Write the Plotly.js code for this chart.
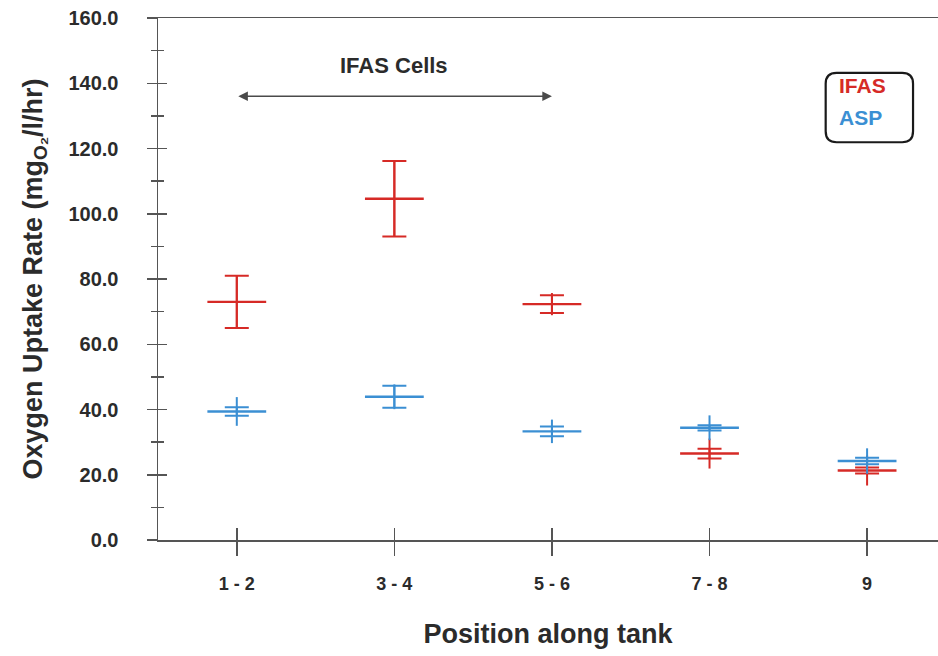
<!DOCTYPE html>
<html>
<head>
<meta charset="utf-8">
<script src="https://cdn.plot.ly/plotly-3.0.1.min.js"></script>
<style>
  html, body { margin: 0; padding: 0; background: #ffffff; }
  #chart { width: 938px; height: 656px; }
</style>
</head>
<body>
<div id="chart"></div>
<script>
// Tank positions
const positions = ['1 - 2', '3 - 4', '5 - 6', '7 - 8', '9'];
const seriesNames = ['IFAS', 'ASP'];

// IFAS reactor: mean uptake rate, cap (SD) and whisker (range) half-widths
const ifasMean = [73.0, 104.6, 72.3, 26.5, 21.3];
const ifasCap = [8.0, 11.6, 2.7, 1.5, 0.9];
const ifasWhisker = [8.0, 11.6, 3.4, 4.6, 4.6];

// Conventional activated sludge plant
const aspMean = [39.4, 43.9, 33.3, 34.4, 24.2];
const aspCap = [1.3, 3.4, 1.5, 0.8, 1.0];
const aspWhisker = [4.4, 3.8, 3.6, 3.8, 3.9];

// Span of the IFAS cells along the tank
const cellsStart = 0, cellsEnd = 2, cellsLevel = 136, cellsLabelLevel = 145.5;

const red = '#d62a26';
const blue = '#3b8fd3';
const axisColor = '#555555';
const textColor = '#2b2b2b';
const family = 'Liberation Sans, Arial, sans-serif';

function whiskerTrace(mean, half, color) {
  return {
    type: 'scatter', mode: 'markers', x: positions, y: mean,
    marker: { size: 1, color: 'rgba(0,0,0,0)' },
    error_y: { type: 'data', array: half, visible: true, color: color, thickness: 2, width: 0 },
    showlegend: false, hoverinfo: 'skip'
  };
}

function meanTrace(mean, half, color, name) {
  return {
    type: 'scatter', mode: 'markers', name: name, x: positions, y: mean,
    marker: { symbol: 'line-ew', size: 42, color: color, line: { color: color, width: 2.4 } },
    error_y: { type: 'data', array: half, visible: true, color: color, thickness: 2, width: 12 },
    showlegend: false
  };
}

const traces = [
  whiskerTrace(ifasMean, ifasWhisker, red),
  meanTrace(ifasMean, ifasCap, red, seriesNames[0]),
  whiskerTrace(aspMean, aspWhisker, blue),
  meanTrace(aspMean, aspCap, blue, seriesNames[1]),
  // carries the inner halves of the crossing tick marks
  { type: 'scatter', mode: 'markers', x: [], y: [], xaxis: 'x2', yaxis: 'y2', showlegend: false, hoverinfo: 'skip' }
];

const xRange = [-0.5, 4.45];
const yRange = [0, 160];
const xTickFont = { family: family, size: 18, color: textColor, weight: 'bold' };
const yTickFont = { family: family, size: 20, color: textColor, weight: 'bold' };
const xTitleFont = { family: family, size: 27, color: textColor, weight: 'bold' };
const yTitleFont = { family: family, size: 27, color: textColor, weight: 'bold' };

// Rounded key frame in paper units
const bx0 = 0.856, bx1 = 0.968, by0 = 0.762, by1 = 0.895, rx = 0.014, ry = 0.021;
const keyPath = `M ${bx0 + rx} ${by0} L ${bx1 - rx} ${by0} Q ${bx1} ${by0} ${bx1} ${by0 + ry} ` +
  `L ${bx1} ${by1 - ry} Q ${bx1} ${by1} ${bx1 - rx} ${by1} L ${bx0 + rx} ${by1} ` +
  `Q ${bx0} ${by1} ${bx0} ${by1 - ry} L ${bx0} ${by0 + ry} Q ${bx0} ${by0} ${bx0 + rx} ${by0} Z`;

const layout = {
  width: 938, height: 656,
  margin: { l: 158, r: 0, t: 18, b: 116 },
  paper_bgcolor: '#ffffff', plot_bgcolor: '#ffffff',
  showlegend: false,
  xaxis: {
    type: 'category', range: xRange,
    showgrid: false, zeroline: false,
    showline: true, linecolor: axisColor, linewidth: 1.5, mirror: true,
    ticks: 'outside', ticklen: 14, tickwidth: 1.5, tickcolor: axisColor,
    ticklabelstandoff: 13,
    tickfont: xTickFont,
    title: { text: 'Position along tank', font: xTitleFont, standoff: 31 }
  },
  yaxis: {
    range: yRange, dtick: 20, tickformat: '.1f',
    showgrid: false, zeroline: false,
    showline: true, linecolor: axisColor, linewidth: 1.5,
    ticks: 'outside', ticklen: 10, tickwidth: 1.5, tickcolor: axisColor,
    minor: { dtick: 10, ticks: 'outside', ticklen: 6, tickwidth: 1.5, tickcolor: axisColor },
    ticklabelstandoff: 24,
    tickfont: yTickFont,
    title: { text: 'Oxygen Uptake Rate (mg<sub>O₂</sub>/l/hr)', font: yTitleFont, standoff: 18 }
  },
  xaxis2: {
    overlaying: 'x', anchor: 'y2', range: xRange,
    tickvals: [0, 1, 2, 3, 4], showticklabels: false,
    showgrid: false, zeroline: false, showline: false,
    ticks: 'inside', ticklen: 12, tickwidth: 1.5, tickcolor: axisColor
  },
  yaxis2: {
    overlaying: 'y', anchor: 'x2', range: yRange, dtick: 20, showticklabels: false,
    showgrid: false, zeroline: false, showline: false,
    ticks: 'inside', ticklen: 9, tickwidth: 1.5, tickcolor: axisColor,
    minor: { dtick: 10, ticks: 'inside', ticklen: 6, tickwidth: 1.5, tickcolor: axisColor }
  },
  shapes: [
    { type: 'path', xref: 'paper', yref: 'paper', path: keyPath,
      line: { color: '#1a1a1a', width: 2.2 }, fillcolor: 'rgba(0,0,0,0)' }
  ],
  annotations: [
    { xref: 'x', yref: 'y', x: cellsEnd, y: cellsLevel, axref: 'x', ayref: 'y', ax: cellsStart, ay: cellsLevel,
      text: '', showarrow: true, arrowside: 'end+start', arrowhead: 2, arrowsize: 1.2, arrowwidth: 1.6,
      arrowcolor: '#4a4a4a', standoff: 0, startstandoff: 0 },
    { xref: 'x', yref: 'y', x: (cellsStart + cellsEnd) / 2, y: cellsLabelLevel, text: 'IFAS Cells',
      showarrow: false, font: { family: family, size: 22, color: textColor, weight: 'bold' } },
    { xref: 'paper', yref: 'paper', x: 0.871, y: 0.870, xanchor: 'left', yanchor: 'middle', text: seriesNames[0], showarrow: false,
      font: { family: family, size: 21, color: red, weight: 'bold' } },
    { xref: 'paper', yref: 'paper', x: 0.871, y: 0.809, xanchor: 'left', yanchor: 'middle', text: seriesNames[1], showarrow: false,
      font: { family: family, size: 21, color: blue, weight: 'bold' } }
  ]
};

Plotly.newPlot('chart', traces, layout, { displayModeBar: false, staticPlot: true });
</script>
</body>
</html>
